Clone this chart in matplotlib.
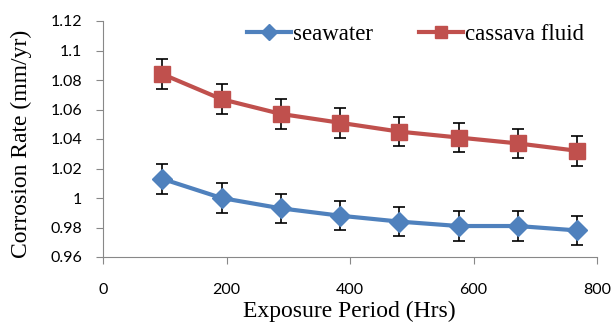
import matplotlib.pyplot as plt
from matplotlib.lines import Line2D

# exposure period (hrs) and mean corrosion rates (mm/yr)
hours = [96, 192, 288, 384, 480, 576, 672, 768]
seawater = [1.013, 1.000, 0.993, 0.988, 0.984, 0.981, 0.981, 0.978]
cassava = [1.084, 1.067, 1.057, 1.051, 1.045, 1.041, 1.037, 1.032]
err = [0.01] * len(hours)

blue = "#4F81BD"
red = "#C0504D"

fig = plt.figure(figsize=(6.12, 3.23), dpi=100)
ax = fig.add_axes([103 / 612, 1 - 257 / 323, 494 / 612, 236 / 323])

ax.errorbar(hours, seawater, yerr=err, color=blue, lw=3, marker="D", ms=10,
            ecolor="black", elinewidth=1.2, capsize=4, capthick=1.2, zorder=3)
ax.errorbar(hours, cassava, yerr=err, color=red, lw=3, marker="s", ms=11,
            ecolor="black", elinewidth=1.2, capsize=4, capthick=1.2, zorder=3)

ax.set_xlim(0, 800)
ax.set_ylim(0.96, 1.12)
ax.set_xticks([0, 200, 400, 600, 800])
ax.set_yticks([0.96, 0.98, 1.0, 1.02, 1.04, 1.06, 1.08, 1.1, 1.12])
ax.set_yticklabels(["0.96", "0.98", "1", "1.02", "1.04", "1.06", "1.08", "1.1", "1.12"])

for s in ["top", "right"]:
    ax.spines[s].set_visible(False)
for s in ["left", "bottom"]:
    ax.spines[s].set_color("#888888")
ax.tick_params(axis="both", colors="#888888", length=5, labelcolor="black", labelsize=11.5)
ax.tick_params(axis="x", pad=14)
ax.tick_params(axis="y", pad=10)
for lab in ax.get_xticklabels() + ax.get_yticklabels():
    lab.set_family("Lato")

ax.set_xlabel("Exposure Period (Hrs)", family="Liberation Serif", fontsize=17)
ax.set_ylabel("Corrosion Rate (mm/yr)", family="Liberation Serif", fontsize=17)
ax.xaxis.set_label_coords(0.498, -0.185)
ax.yaxis.set_label_coords(-0.144, 0.479)

handles = [Line2D([], [], color=blue, lw=3, marker="D", ms=8),
           Line2D([], [], color=red, lw=3, marker="s", ms=9)]
ax.legend(handles, ["seawater", "cassava fluid"], loc="center", bbox_to_anchor=(0.633, 0.941),
          ncol=2, frameon=False, prop={"family": "Liberation Serif", "size": 16.5},
          handlelength=1.9, handletextpad=0.1, columnspacing=2.0)

fig.savefig("out.png", dpi=100)
